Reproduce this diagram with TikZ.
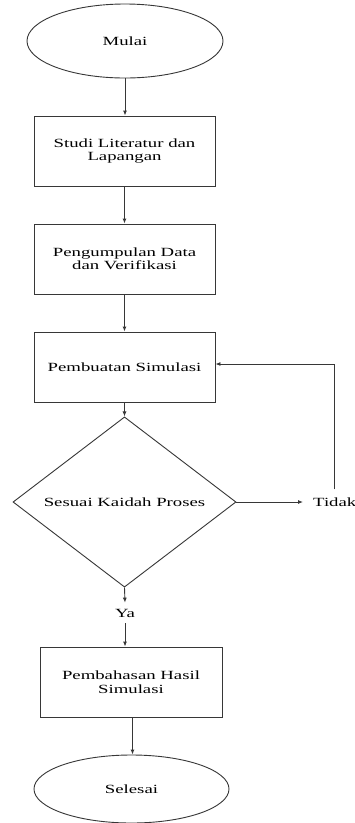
\documentclass[tikz,border=0pt]{standalone}
\usepackage{fontspec}
\setmainfont[FakeStretch=1.5]{Liberation Serif}
\usetikzlibrary{shapes.geometric,arrows.meta}
\definecolor{ln}{RGB}{55,55,55}
\tikzset{
  base/.style={draw=ln, line width=0.9pt, font=\fontsize{12.5}{13.5}\selectfont, align=center, text=black},
  term/.style={base, ellipse, inner sep=0pt},
  procbox/.style={base, rectangle, minimum width=181pt, minimum height=70pt, inner sep=0pt},
  decide/.style={base, diamond, inner sep=0pt, minimum width=223pt, minimum height=124pt},
  lbl/.style={font=\fontsize{12.5}{13.5}\selectfont, text=black, inner sep=0pt},
  arr/.style={draw=ln, line width=0.9pt, -{Latex[length=5pt,width=4pt]}}
}
\begin{document}
\begin{tikzpicture}[x=1pt,y=-1pt]
\useasboundingbox[fill=white] (0,0) rectangle (355,823);
\node[term, minimum width=196pt, minimum height=74pt] (M) at (125,41) {Mulai};
\node[procbox] (S1) at (124.5,151) {Studi Literatur dan\\Lapangan};
\node[procbox] (S2) at (124.5,259) {Pengumpulan Data\\dan Verifikasi};
\node[procbox] (S3) at (124.5,367) {Pembuatan Simulasi};
\node[decide] (D) at (124.5,502) {Sesuai Kaidah Proses};
\node[lbl, anchor=west] (T) at (313,502) {Tidak};
\node[lbl, inner ysep=6pt] (Y) at (125,613) {Ya};
\node[procbox, minimum width=182pt] (S4) at (131,682) {Pembahasan Hasil\\Simulasi};
\node[term, minimum width=195pt, minimum height=68pt] (E) at (131.5,789) {Selesai};

\draw[arr] (M.south) -- (M.south |- S1.north);
\draw[arr] (S1.south) -- (S2.north);
\draw[arr] (S2.south) -- (S3.north);
\draw[arr] (S3.south) -- (D.north);
\draw[arr] (D.east) -- ([xshift=-10pt]T.west);
\draw[arr] ([yshift=8pt]T.north) |- ([yshift=3pt]S3.east);
\draw[arr] (D.south) -- (Y.north);
\draw[arr] (Y.south) -- (Y.south |- S4.north);
\draw[arr] ([xshift=1.5pt]S4.south) -- ([xshift=1.5pt]S4.south |- E.north);
\end{tikzpicture}
\end{document}
